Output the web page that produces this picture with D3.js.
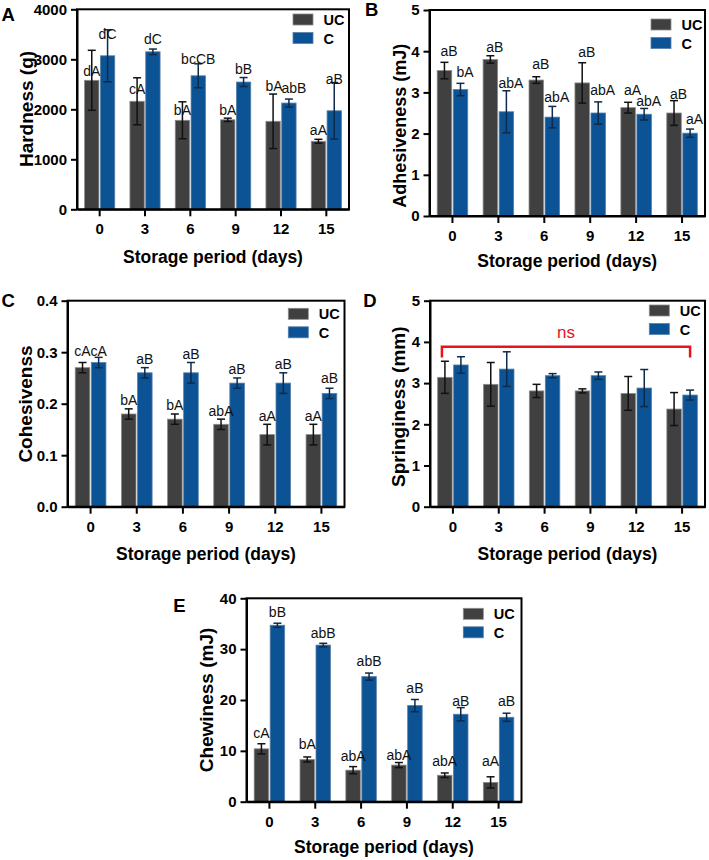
<!DOCTYPE html>
<html>
<head>
<meta charset="utf-8">
<script src="https://cdn.jsdelivr.net/npm/d3@7"></script>
<style>
  html, body { margin: 0; padding: 0; background: #fff; }
  svg { display: block; }
  text { font-family: "Liberation Sans", Arial, Helvetica, sans-serif; }
</style>
</head>
<body>
<svg id="chart" width="709" height="860"></svg>
<script>
// ---------------- DATA ----------------
const days = ['0', '3', '6', '9', '12', '15'];
const groups = ['UC', 'C'];

// A: Hardness (g)
const hardnessUC = [2580, 2160, 1780, 1790, 1760, 1360];
const hardnessUCErr = [600, 470, 370, 33, 545, 40];
const hardnessC = [3070, 3150, 2670, 2545, 2125, 1970];
const hardnessCErr = [520, 55, 240, 90, 80, 565];
const hardnessUCLetters = ['dA', 'cA', 'bA', 'bA', 'bA', 'aA'];
const hardnessCLetters = ['dC', 'dC', 'bcCB', 'bB', 'abB', 'aB'];
const hardnessUCLabelAt = [2666, 2300, 1880, 1880, 2366, 1480];
const hardnessCLabelAt = [3400, 3300, 2910, 2700, 2332, 2512];
const hardnessTicks = [0, 1000, 2000, 3000, 4000];

// B: Adhesiveness (mJ)
const adhesUC = [3.53, 3.80, 3.30, 3.23, 2.63, 2.50];
const adhesUCErr = [0.20, 0.09, 0.08, 0.49, 0.13, 0.30];
const adhesC = [3.07, 2.53, 2.40, 2.50, 2.47, 2.01];
const adhesCErr = [0.15, 0.51, 0.26, 0.27, 0.14, 0.10];
const adhesUCLetters = ['aB', 'aB', 'aB', 'aB', 'aA', 'aB'];
const adhesCLetters = ['bA', 'abA', 'abA', 'abA', 'abA', 'aA'];
const adhesUCLabelAt = [3.88, 3.97, 3.57, 3.85, 2.94, 2.84];
const adhesCLabelAt = [3.38, 3.10, 2.77, 2.94, 2.67, 2.23];
const adhesTicks = [0, 1, 2, 3, 4, 5];

// C: Cohesivenss
const cohesUC = [0.27, 0.18, 0.17, 0.16, 0.14, 0.14];
const cohesUCErr = [0.01, 0.01, 0.01, 0.01, 0.02, 0.02];
const cohesC = [0.28, 0.26, 0.26, 0.24, 0.24, 0.22];
const cohesCErr = [0.01, 0.01, 0.02, 0.01, 0.02, 0.01];
const cohesUCLetters = ['cA', 'bA', 'bA', 'abA', 'aA', 'aA'];
const cohesCLetters = ['cA', 'aB', 'aB', 'aB', 'aB', 'aB'];
const cohesUCLabelAt = [0.2926, 0.1975, 0.1878, 0.176, 0.167, 0.167];
const cohesCLabelAt = [0.2926, 0.2765, 0.286, 0.257, 0.2667, 0.2396];
const cohesTicks = [0, 0.1, 0.2, 0.3, 0.4];

// D: Springiness (mm)
const springUC = [3.14, 2.97, 2.81, 2.81, 2.75, 2.37];
const springUCErr = [0.39, 0.53, 0.16, 0.05, 0.41, 0.40];
const springC = [3.44, 3.34, 3.18, 3.18, 2.88, 2.71];
const springCErr = [0.20, 0.42, 0.05, 0.09, 0.45, 0.12];
const springTicks = [0, 1, 2, 3, 4, 5];
const springNsLevel = 3.88;   // bracket height (mm)
const springNsDrop = 3.62;    // bracket end drop (mm)
const springNsText = 'ns';

// E: Chewiness (mJ)
const chewUC = [10.4, 8.3, 6.2, 7.2, 5.2, 3.8];
const chewUCErr = [1.0, 0.5, 0.7, 0.5, 0.45, 1.1];
const chewC = [34.7, 30.8, 24.6, 18.9, 17.2, 16.6];
const chewCErr = [0.4, 0.35, 0.7, 1.2, 1.3, 0.8];
const chewUCLetters = ['cA', 'bA', 'abA', 'abA', 'abA', 'aA'];
const chewCLetters = ['bB', 'abB', 'abB', 'aB', 'aB', 'aB'];
const chewUCLabelAt = [12.6, 10.3, 8.07, 8.2, 7.08, 7.08];
const chewCLabelAt = [36.4, 32.1, 26.7, 21.3, 18.8, 18.8];
const chewTicks = [0, 10, 20, 30, 40];

const xTitle = 'Storage period (days)';

// ---------------- STYLE ----------------
const FILL = { UC: '#404040', C: '#0b5394' };
const EDGE = { UC: '#8c8c8c', C: '#5a7fa6' };
const ERR = { UC: '#111111', C: '#0f2a48' };
const FONT = '"Liberation Sans", Arial, Helvetica, sans-serif';

const svg = d3.select('#chart');

function panel(cfg) {
  const g = svg.append('g');
  const x0 = d3.scaleBand().domain(days).range(cfg.xr).paddingInner(0).paddingOuter(0);
  const x1 = d3.scaleBand().domain(groups).range([0, x0.bandwidth()])
    .paddingInner(0.094).paddingOuter(0.48);
  const y = d3.scaleLinear().domain(cfg.domain).range([cfg.y0, cfg.yTop]);

  const rows = [];
  days.forEach((d, i) => {
    rows.push({ day: d, grp: 'UC', v: cfg.uc[i], e: cfg.ucErr[i],
      lab: cfg.ucLet ? cfg.ucLet[i] : null, la: cfg.ucAt ? cfg.ucAt[i] : null });
    rows.push({ day: d, grp: 'C', v: cfg.c[i], e: cfg.cErr[i],
      lab: cfg.cLet ? cfg.cLet[i] : null, la: cfg.cAt ? cfg.cAt[i] : null });
  });
  const cx = r => x0(r.day) + x1(r.grp) + x1.bandwidth() / 2;
  const nudge = cfg.nudge || {};

  // bars
  g.selectAll('rect.bar').data(rows).join('rect')
    .attr('class', 'bar')
    .attr('x', r => x0(r.day) + x1(r.grp))
    .attr('width', x1.bandwidth())
    .attr('y', r => y(r.v))
    .attr('height', r => y(0) - y(r.v))
    .attr('fill', r => FILL[r.grp])
    .attr('stroke', r => EDGE[r.grp])
    .attr('stroke-width', 0.8);

  // error bars
  const cap = 4;
  const eg = g.selectAll('g.err').data(rows).join('g').attr('class', 'err')
    .attr('stroke', r => ERR[r.grp]).attr('stroke-width', 1.5).attr('fill', 'none');
  eg.append('line').attr('x1', cx).attr('x2', cx)
    .attr('y1', r => y(r.v + r.e)).attr('y2', r => y(r.v - r.e));
  eg.append('line').attr('x1', r => cx(r) - cap).attr('x2', r => cx(r) + cap)
    .attr('y1', r => y(r.v + r.e)).attr('y2', r => y(r.v + r.e));
  eg.append('line').attr('x1', r => cx(r) - cap).attr('x2', r => cx(r) + cap)
    .attr('y1', r => y(r.v - r.e)).attr('y2', r => y(r.v - r.e));

  // letters
  g.selectAll('text.lab').data(rows.filter(r => r.lab)).join('text')
    .attr('class', 'lab')
    .attr('x', r => cx(r) + (cfg.ldx || 0) + (nudge[r.grp + r.day] || 0))
    .attr('y', r => y(r.la))
    .attr('text-anchor', 'middle')
    .attr('font-size', 14)
    .attr('fill', '#111')
    .text(r => r.lab);

  // axes
  const ya = g.append('g').attr('transform', `translate(${cfg.xr[0]},0)`)
    .call(d3.axisLeft(y).tickValues(cfg.ticks).tickSize(6).tickSizeOuter(0).tickPadding(4)
      .tickFormat(cfg.fmt));
  const xa = g.append('g').attr('transform', `translate(0,${cfg.y0})`)
    .call(d3.axisBottom(x0).tickSize(7).tickSizeOuter(0).tickPadding(7.5));
  [ya, xa].forEach(a => {
    a.selectAll('path, line').attr('stroke', '#000').attr('stroke-width', 2);
    a.selectAll('text').attr('font-family', FONT).attr('font-weight', 'bold')
      .attr('font-size', 15).attr('fill', '#000');
  });

  // frame
  g.append('rect').attr('x', cfg.xr[0]).attr('y', cfg.yTop)
    .attr('width', cfg.xr[1] - cfg.xr[0]).attr('height', cfg.y0 - cfg.yTop)
    .attr('fill', 'none').attr('stroke', '#000').attr('stroke-width', 2);

  // legend
  groups.forEach((gr, i) => {
    const ly = cfg.leg[1] + i * 18.5;
    g.append('rect').attr('x', cfg.leg[0]).attr('y', ly).attr('width', 20).attr('height', 11)
      .attr('fill', FILL[gr]).attr('stroke', EDGE[gr]).attr('stroke-width', 0.8);
    g.append('text').attr('x', cfg.leg[0] + 30.5).attr('y', ly + 11)
      .attr('font-size', 14.5).attr('font-weight', 'bold').attr('fill', '#000').text(gr);
  });

  // titles
  g.append('text').attr('x', (cfg.xr[0] + cfg.xr[1]) / 2).attr('y', cfg.xtY)
    .attr('text-anchor', 'middle').attr('font-size', 17.5).attr('font-weight', 'bold')
    .attr('fill', '#000').text(xTitle);
  g.append('text')
    .attr('transform', `translate(${cfg.ytPos[0]},${cfg.ytPos[1]}) rotate(-90)`)
    .attr('text-anchor', 'middle').attr('dominant-baseline', 'central')
    .attr('font-size', cfg.ytSize || 19).attr('font-weight', 'bold').attr('fill', '#000')
    .text(cfg.yTitle);
  g.append('text').attr('x', cfg.letPos[0]).attr('y', cfg.letPos[1])
    .attr('font-size', 18.5).attr('font-weight', 'bold').attr('fill', '#000').text(cfg.letter);

  return { g, x0, x1, y };
}

panel({
  letter: 'A', letPos: [1.5, 20.7], yTitle: 'Hardness (g)', ytPos: [26.7, 109],
  xr: [77, 349], y0: 209.3, yTop: 9.3, domain: [0, 4000], ticks: hardnessTicks, fmt: d3.format('d'),
  uc: hardnessUC, ucErr: hardnessUCErr, c: hardnessC, cErr: hardnessCErr,
  ucLet: hardnessUCLetters, cLet: hardnessCLetters, ucAt: hardnessUCLabelAt, cAt: hardnessCLabelAt,
  nudge: { UC12: 1, C12: 5 },
  leg: [293, 14], xtY: 263
});

panel({
  letter: 'B', letPos: [365, 16], yTitle: 'Adhesiveness (mJ)', ytPos: [400, 125.7], ytSize: 18,
  xr: [429.5, 705], y0: 216, yTop: 10, domain: [0, 5], ticks: adhesTicks, fmt: d3.format('d'),
  uc: adhesUC, ucErr: adhesUCErr, c: adhesC, cErr: adhesCErr,
  ucLet: adhesUCLetters, cLet: adhesCLetters, ucAt: adhesUCLabelAt, cAt: adhesCLabelAt, ldx: 4.5,
  leg: [651, 19], xtY: 266.7
});

panel({
  letter: 'C', letPos: [1.5, 307.3], yTitle: 'Cohesivenss', ytPos: [25, 404],
  xr: [67.5, 344.5], y0: 506.7, yTop: 300.7, domain: [0, 0.4], ticks: cohesTicks, fmt: d3.format('.1f'),
  uc: cohesUC, ucErr: cohesUCErr, c: cohesC, cErr: cohesCErr,
  ucLet: cohesUCLetters, cLet: cohesCLetters, ucAt: cohesUCLabelAt, cAt: cohesCLabelAt,
  leg: [288.3, 308.3], xtY: 560
});

const pD = panel({
  letter: 'D', letPos: [363.3, 307.3], yTitle: 'Springiness (mm)', ytPos: [398.3, 406.7],
  xr: [430, 705], y0: 506.7, yTop: 300.7, domain: [0, 5], ticks: springTicks, fmt: d3.format('d'),
  uc: springUC, ucErr: springUCErr, c: springC, cErr: springCErr,
  leg: [649.3, 305], xtY: 560
});
// ns bracket
{
  const { g, x0, x1, y } = pD;
  const xl = x0(days[0]) + x1('UC') + x1.bandwidth() / 2 - 3;
  const xr = x0(days[days.length - 1]) + x1('C') + x1.bandwidth() / 2;
  g.append('path')
    .attr('d', `M${xl},${y(springNsDrop)}V${y(springNsLevel)}H${xr}V${y(springNsDrop)}`)
    .attr('fill', 'none').attr('stroke', '#e8141b').attr('stroke-width', 2.5);
  g.append('text').attr('x', (xl + xr) / 2).attr('y', y(springNsLevel) - 8.5)
    .attr('text-anchor', 'middle').attr('font-size', 17).attr('fill', '#e8141b').text(springNsText);
}

panel({
  letter: 'E', letPos: [173.3, 611.7], yTitle: 'Chewiness (mJ)', ytPos: [206.7, 700],
  xr: [246.5, 521.5], y0: 801.7, yTop: 598.3, domain: [0, 40], ticks: chewTicks, fmt: d3.format('d'),
  uc: chewUC, ucErr: chewUCErr, c: chewC, cErr: chewCErr,
  ucLet: chewUCLetters, cLet: chewCLetters, ucAt: chewUCLabelAt, cAt: chewCLabelAt,
  leg: [463.3, 608.3], xtY: 853.3
});
</script>
</body>
</html>
